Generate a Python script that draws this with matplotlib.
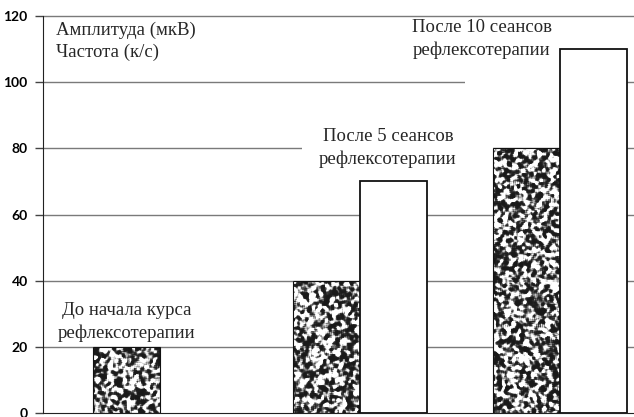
import numpy as np
import matplotlib
matplotlib.use("Agg")
import matplotlib.pyplot as plt
from matplotlib.patches import Rectangle

# ---- data ----
group_labels = ["До начала курса\nрефлексотерапии",
                "После 5 сеансов\nрефлексотерапии",
                "После 10 сеансов\nрефлексотерапии"]
amplitude = [20, 40, 80]      # Амплитуда (мкВ)
frequency = [0, 70, 110]      # Частота (к/с)
series_names = ["Амплитуда (мкВ)", "Частота (к/с)"]
yticks = [0, 20, 40, 60, 80, 100, 120]

W, H = 634, 417
fig = plt.figure(figsize=(W / 100, H / 100), dpi=100)
ax = fig.add_axes([43 / W, 4 / H, (634 - 43) / W, (413 - 16) / H])

x = np.arange(len(amplitude))
bw = 0.335
XL = ((43 - 160) / 200, (634 - 160) / 200)

serif = ["Liberation Serif", "DejaVu Serif"]
tcol = "#262626"
fs = 13.5

# gridlines
ax.hlines(yticks[1:], XL[0], XL[1], colors="#7a7a7a", lw=1.0, zorder=1, clip_on=False)

# masks behind labels (Excel label boxes)
ax.add_patch(Rectangle((0.71, 73), 1.665 - 0.71, 88.5 - 73, facecolor="white", edgecolor="none", zorder=2))
ax.add_patch(Rectangle((1.525, 96), 2.0 - 1.525, 117 - 96, facecolor="white", edgecolor="none", zorder=2))

# textured amplitude bars
rng = np.random.default_rng(5)
def blur(a):
    h, w = a.shape
    p = np.pad(a, 1, mode="reflect")
    s = np.zeros((h, w))
    for i in range(3):
        for j in range(3):
            s += p[i:i + h, j:j + w]
    return s / 9

def texture(h, w):
    s = blur(blur(rng.random((h, w))))
    s = (s - s.mean()) / s.std()
    return np.clip(0.6 + 0.5 * np.tanh(1.7 * (s - 0.2)), 0, 1)

amp_bars = ax.bar(x - bw / 2, amplitude, bw, facecolor="none", edgecolor="#111111", lw=0.8, zorder=4)
for b, v in zip(amp_bars, amplitude):
    hpx = max(int(v * 397 / 120), 2)
    tex = texture(hpx, 67)
    im = ax.imshow(tex, cmap="gray", vmin=0, vmax=1, interpolation="nearest",
                   extent=(b.get_x(), b.get_x() + bw, 0, v), aspect="auto", zorder=3)
    im.set_clip_path(b)

freq_bars = ax.bar(x + bw / 2, frequency, bw, facecolor="white", edgecolor="#111111", lw=1.3, zorder=4)
for b, v in zip(freq_bars, frequency):
    if v == 0:
        b.set_edgecolor("none")

ax.set_xlim(*XL)
ax.set_ylim(0, 120)

# group labels
label_pos = [(-0.165, 27.5), (1.14, 80.1), (1.61, 113.0)]
for lab, (lx, ly) in zip(group_labels, label_pos):
    ax.text(lx, ly, lab, ha="center", va="center", multialignment="center",
            family=serif, fontsize=fs, color=tcol, linespacing=1.4, zorder=5)

# legend texts (no markers)
ax.text((56 - 43) / (634 - 43), 1 - (30 - 16) / 397, series_names[0], transform=ax.transAxes,
        ha="left", va="center", family=serif, fontsize=fs, color=tcol)
ax.text((56 - 43) / (634 - 43), 1 - (52 - 16) / 397, series_names[1], transform=ax.transAxes,
        ha="left", va="center", family=serif, fontsize=fs, color=tcol)

# axes styling
for s in ["top", "right"]:
    ax.spines[s].set_visible(False)
ax.spines["left"].set_color("#222222")
ax.spines["bottom"].set_color("#222222")
ax.spines["left"].set_zorder(6)
ax.spines["bottom"].set_zorder(6)
ax.set_xticks([])
ax.set_yticks(yticks)
ax.set_yticklabels([str(t) for t in yticks], family=["Lato", "DejaVu Sans"], fontweight="bold", fontsize=10)
ax.tick_params(axis="y", length=6, width=1, color="#444444", pad=5)
for lbl in ax.get_yticklabels():
    lbl.set_clip_on(False)

fig.savefig("out.png", dpi=100)
